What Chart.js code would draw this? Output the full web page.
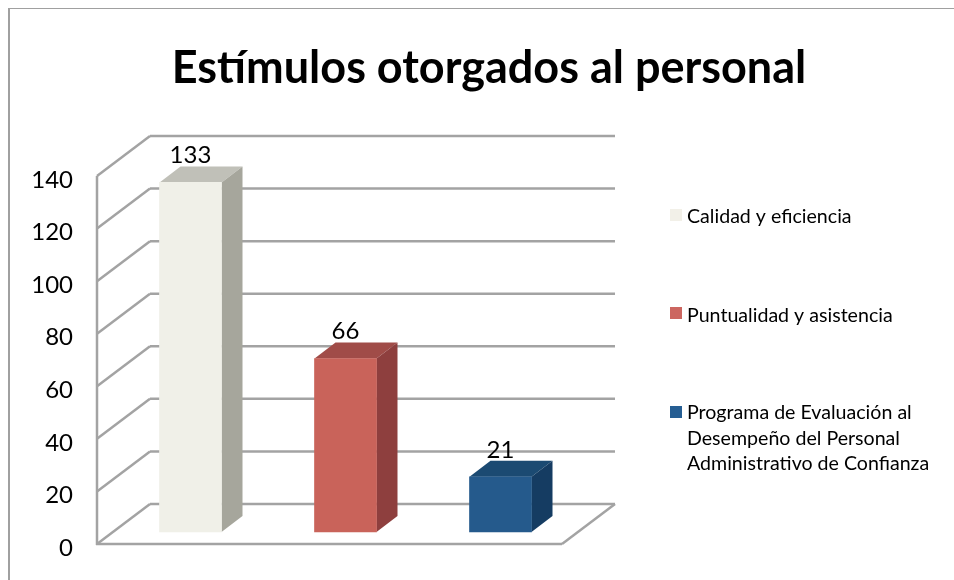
<!DOCTYPE html>
<html>
<head>
<meta charset="utf-8">
<title>Estímulos otorgados al personal</title>
<script src="https://cdn.jsdelivr.net/npm/chart.js@4/dist/chart.umd.min.js"></script>
<style>
	html, body { margin: 0; padding: 0; background: #fff; }
	canvas { display: block; }
</style>
</head>
<body>
<canvas id="estimulos" width="954" height="580"></canvas>
<script>
var titulo = 'Estímulos otorgados al personal';
var categorias = ['Calidad y eficiencia', 'Puntualidad y asistencia', 'Programa de Evaluación al Desempeño del Personal Administrativo de Confianza'];
var valores = [133, 66, 21];

var colorFrente = ['#f0f0e8', '#c9635a', '#255a8c'];
var colorTapa = ['#c0c0b8', '#a04c48', '#1b4a72'];
var colorLado = ['#a6a69c', '#8e3f3e', '#153c62'];
var colorLeyenda = ['#f2f0e8', '#cc6660', '#265e93'];
var colorEje = '#a3a3a3';
var fuente = 'Lato, Carlito, sans-serif';

// wall depth and bar depth of the fake 3d box
var fondo = { x: 53, y: -40 };
var barra = { x: 21, y: -16 };
var despl = { x: 16, y: -12 };

function linea(ctx, x1, y1, x2, y2) {
	ctx.beginPath();
	ctx.moveTo(x1, y1);
	ctx.lineTo(x2, y2);
	ctx.stroke();
}

function cara(ctx, puntos, color) {
	ctx.fillStyle = color;
	ctx.beginPath();
	puntos.forEach(function (p, i) {
		if (i == 0) ctx.moveTo(p[0], p[1]);
		else ctx.lineTo(p[0], p[1]);
	});
	ctx.closePath();
	ctx.fill();
}

function partirTexto(ctx, texto, ancho) {
	var lineas = [], actual = '';
	texto.split(' ').forEach(function (palabra) {
		var prueba = actual ? actual + ' ' + palabra : palabra;
		if (ctx.measureText(prueba).width > ancho && actual) {
			lineas.push(actual);
			actual = palabra;
		} else {
			actual = prueba;
		}
	});
	lineas.push(actual);
	return lineas;
}

var caja3d = {
	id: 'caja3d',
	afterLayout: function (chart) {
		// title is centered on the whole picture, not on the plot
		chart.titleBlock.left = 0;
		chart.titleBlock.right = 978;

		// tick labels sit a little under their lines in the original
		var y = chart.scales.y, dibujar = y.drawLabels;
		y.drawLabels = function (area) {
			chart.ctx.save();
			chart.ctx.translate(0, 4);
			dibujar.call(y, area);
			chart.ctx.restore();
		};
	},
	beforeDraw: function (chart) {
		var ctx = chart.ctx, area = chart.chartArea, y = chart.scales.y;
		ctx.save();

		// frame of the picture
		ctx.fillStyle = '#a0a0a0';
		ctx.fillRect(8, 8, 946, 1);
		ctx.fillRect(8, 8, 2, 572);

		ctx.strokeStyle = colorEje;
		ctx.lineWidth = 2.5;
		y.ticks.forEach(function (t) {
			var py = y.getPixelForValue(t.value);
			linea(ctx, area.left, py, area.left + fondo.x, py + fondo.y);
			linea(ctx, area.left + fondo.x, py + fondo.y, area.right + fondo.x, py + fondo.y);
		});
		linea(ctx, area.left, area.top, area.left, area.bottom + 1);
		linea(ctx, area.left - 1, area.bottom, area.right, area.bottom);
		linea(ctx, area.right, area.bottom, area.right + fondo.x, area.bottom + fondo.y);
		ctx.restore();
	},
	beforeDatasetsDraw: function (chart) {
		var ctx = chart.ctx;
		ctx.save();
		ctx.translate(despl.x, despl.y);
		chart.getDatasetMeta(0).data.forEach(function (b, i) {
			var l = b.x - b.width / 2, r = b.x + b.width / 2;
			cara(ctx, [[l, b.y], [l + barra.x, b.y + barra.y], [r + barra.x, b.y + barra.y], [r, b.y]], colorTapa[i]);
			cara(ctx, [[r, b.y], [r + barra.x, b.y + barra.y], [r + barra.x, b.base + barra.y], [r, b.base]], colorLado[i]);
		});
	},
	afterDatasetsDraw: function (chart) {
		var ctx = chart.ctx;
		ctx.textAlign = 'center';
		ctx.textBaseline = 'middle';
		ctx.fillStyle = '#000';
		ctx.font = '24px ' + fuente;
		chart.getDatasetMeta(0).data.forEach(function (b, i) {
			ctx.fillText(String(valores[i]), b.x, b.y - 27);
		});
		ctx.restore();
	},
	afterDraw: function (chart) {
		// legend by hand, the built in one does not wrap long labels
		var ctx = chart.ctx;
		var inicio = [217, 316, 413];
		ctx.save();
		ctx.font = '19.6px ' + fuente;
		ctx.textAlign = 'left';
		ctx.textBaseline = 'middle';
		categorias.forEach(function (texto, i) {
			ctx.fillStyle = colorLeyenda[i];
			ctx.fillRect(670, [209, 307, 406][i], 12, 12);
			ctx.fillStyle = '#000';
			partirTexto(ctx, texto, 250).forEach(function (l, n) {
				ctx.fillText(l, 687, inicio[i] + n * 25.5);
			});
		});
		ctx.restore();
	}
};

var grafico = new Chart(document.getElementById('estimulos'), {
	type: 'bar',
	data: {
		labels: categorias,
		datasets: [{
			data: valores,
			backgroundColor: colorFrente,
			barThickness: 62,
			clip: false
		}]
	},
	options: {
		responsive: false,
		animation: false,
		layout: { padding: { left: 0, right: 392, top: 0, bottom: 36 } },
		plugins: {
			legend: { display: false },
			tooltip: { enabled: false },
			title: {
				display: true,
				text: titulo,
				color: '#000',
				font: { family: fuente, size: 45, weight: 'bold', lineHeight: 1.2 },
				padding: { top: 41, bottom: 81 }
			}
		},
		scales: {
			x: { display: false },
			y: {
				min: 0,
				max: 140,
				afterFit: function (scale) {
					// tick padding would otherwise eat into the plot height
					scale.width = 97;
					scale.paddingTop = 0;
					scale.paddingBottom = 0;
				},
				grid: { display: false, drawTicks: false },
				border: { display: false },
				ticks: {
					stepSize: 20,
					padding: 24,
					color: '#000',
					font: { family: fuente, size: 24 }
				}
			}
		}
	},
	plugins: [caja3d]
});
</script>
</body>
</html>
